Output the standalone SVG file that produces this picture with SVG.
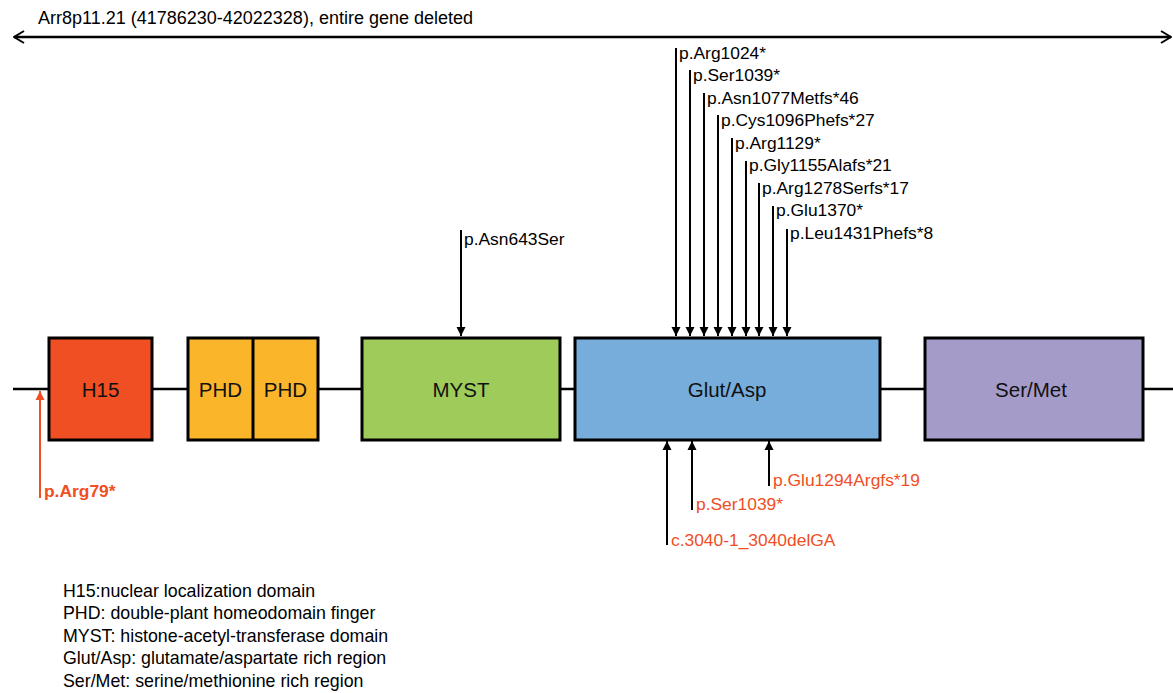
<svg xmlns="http://www.w3.org/2000/svg" width="1173" height="693" viewBox="0 0 1173 693">
<style>
text{font-family:"Liberation Sans",Arial,sans-serif;}
.lbl{font-size:17.4px;fill:#000;}
.red{font-size:17.4px;fill:#F04E23;}
.box{stroke:#000;stroke-width:3;}
.bl{font-size:20.5px;fill:#111;text-anchor:middle;}
.ar{stroke:#000;stroke-width:2;fill:none;}
.leg{font-size:17.8px;fill:#000;}
</style>
<defs>
<marker id="tri" markerWidth="10" markerHeight="10" refX="9" refY="5" orient="auto" markerUnits="userSpaceOnUse">
<path d="M0,0.5 L9,5 L0,9.5 Z" fill="#000"/>
</marker>
<marker id="trired" markerWidth="10" markerHeight="10" refX="9" refY="5" orient="auto" markerUnits="userSpaceOnUse">
<path d="M0,0.5 L9,5 L0,9.5 Z" fill="#F04E23"/>
</marker>
<marker id="open" markerWidth="12" markerHeight="14" refX="11" refY="7" orient="auto-start-reverse" markerUnits="userSpaceOnUse">
<path d="M1,1 L11,7 L1,13" fill="none" stroke="#000" stroke-width="2"/>
</marker>
</defs>
<rect width="1173" height="693" fill="#fff"/>
<g id="connectors">
<line x1="14" y1="37" x2="1171" y2="37" stroke="#000" stroke-width="2.5" marker-start="url(#open)" marker-end="url(#open)"/>
<line x1="13" y1="389" x2="1173" y2="389" stroke="#000" stroke-width="2.5"/>
<line class="ar" x1="676" y1="48" x2="676" y2="336" marker-end="url(#tri)"/>
<line class="ar" x1="690" y1="70" x2="690" y2="336" marker-end="url(#tri)"/>
<line class="ar" x1="704" y1="93" x2="704" y2="336" marker-end="url(#tri)"/>
<line class="ar" x1="718" y1="115" x2="718" y2="336" marker-end="url(#tri)"/>
<line class="ar" x1="732" y1="138" x2="732" y2="336" marker-end="url(#tri)"/>
<line class="ar" x1="746" y1="161" x2="746" y2="336" marker-end="url(#tri)"/>
<line class="ar" x1="759" y1="183" x2="759" y2="336" marker-end="url(#tri)"/>
<line class="ar" x1="773" y1="206" x2="773" y2="336" marker-end="url(#tri)"/>
<line class="ar" x1="787" y1="229" x2="787" y2="336" marker-end="url(#tri)"/>
<line class="ar" x1="461" y1="230" x2="461" y2="336" marker-end="url(#tri)"/>
<line x1="40" y1="498" x2="40" y2="391" stroke="#F04E23" stroke-width="2" marker-end="url(#trired)"/>
<line class="ar" x1="667" y1="545" x2="667" y2="441" marker-end="url(#tri)"/>
<line class="ar" x1="692" y1="510" x2="692" y2="441" marker-end="url(#tri)"/>
<line class="ar" x1="769" y1="486" x2="769" y2="441" marker-end="url(#tri)"/>
</g>
<text class="lbl" x="38" y="24" style="font-size:18px">Arr8p11.21 (41786230-42022328), entire gene deleted</text>
<g id="h15"><rect class="box" x="49" y="338" width="103" height="102" fill="#F04E23"/><text class="bl" x="100.5" y="397">H15</text></g>
<g id="phd"><rect class="box" x="188" y="338" width="130" height="102" fill="#FBB52A"/><line x1="253" y1="338" x2="253" y2="440" stroke="#000" stroke-width="3"/><text class="bl" x="220.5" y="397">PHD</text><text class="bl" x="285.5" y="397">PHD</text></g>
<g id="myst"><rect class="box" x="362" y="338" width="198" height="102" fill="#9FCB5B"/><text class="bl" x="461" y="397">MYST</text></g>
<g id="glut"><rect class="box" x="575" y="338" width="305" height="102" fill="#77ADDB"/><text class="bl" x="727" y="397">Glut/Asp</text></g>
<g id="sermet"><rect class="box" x="925" y="338" width="218" height="102" fill="#A59BC8"/><text class="bl" x="1031" y="397">Ser/Met</text></g>
<g id="labels-top">
<text class="lbl" x="679" y="59">p.Arg1024*</text>
<text class="lbl" x="693" y="81">p.Ser1039*</text>
<text class="lbl" x="707" y="104">p.Asn1077Metfs*46</text>
<text class="lbl" x="721" y="126">p.Cys1096Phefs*27</text>
<text class="lbl" x="735" y="149">p.Arg1129*</text>
<text class="lbl" x="749" y="171">p.Gly1155Alafs*21</text>
<text class="lbl" x="762" y="194">p.Arg1278Serfs*17</text>
<text class="lbl" x="776" y="216">p.Glu1370*</text>
<text class="lbl" x="790" y="239">p.Leu1431Phefs*8</text>
<text class="lbl" x="464" y="245">p.Asn643Ser</text>
</g>
<g id="labels-bottom">
<text class="red" x="44" y="497" font-weight="bold">p.Arg79*</text>
<text class="red" x="773" y="486">p.Glu1294Argfs*19</text>
<text class="red" x="696" y="510">p.Ser1039*</text>
<text class="red" x="671" y="546">c.3040-1_3040delGA</text>
</g>
<g id="legend">
<text class="leg" x="63" y="597">H15:nuclear localization domain</text>
<text class="leg" x="63" y="619">PHD: double-plant homeodomain finger</text>
<text class="leg" x="63" y="642">MYST: histone-acetyl-transferase domain</text>
<text class="leg" x="63" y="664">Glut/Asp: glutamate/aspartate rich region</text>
<text class="leg" x="63" y="687">Ser/Met: serine/methionine rich region</text>
</g>
</svg>
